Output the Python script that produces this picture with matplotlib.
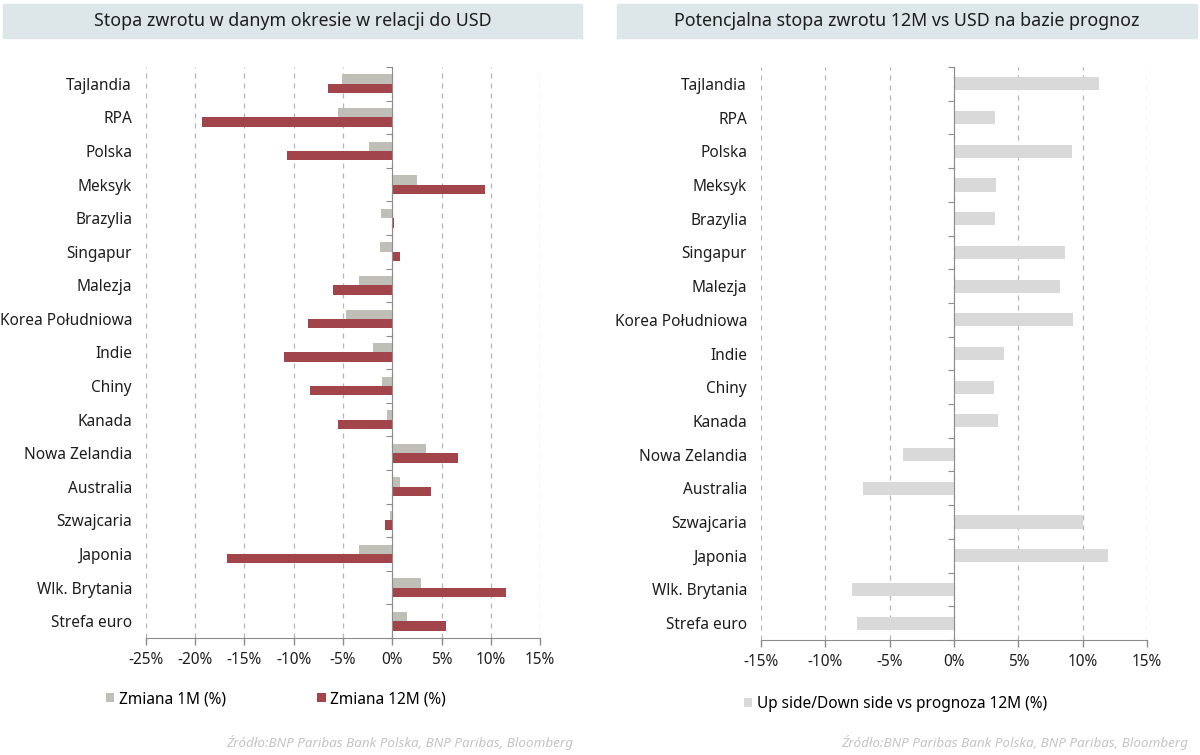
import numpy as np
import matplotlib
matplotlib.use("Agg")
import matplotlib.pyplot as plt
from matplotlib.patches import Rectangle
from matplotlib.ticker import FuncFormatter

plt.rcParams['font.family'] = ['Noto Sans', 'DejaVu Sans']

# data
countries = ["Tajlandia", "RPA", "Polska", "Meksyk", "Brazylia", "Singapur", "Malezja",
             "Korea Południowa", "Indie", "Chiny", "Kanada", "Nowa Zelandia", "Australia",
             "Szwajcaria", "Japonia", "Wlk. Brytania", "Strefa euro"]
change_1m = [-5.1, -5.5, -2.4, 2.5, -1.15, -1.2, -3.4, -4.7, -2.0, -1.0, -0.55,
             3.4, 0.8, -0.2, -3.4, 2.9, 1.5]
change_12m = [-6.5, -19.3, -10.7, 9.4, 0.15, 0.8, -6.0, -8.6, -11.0, -8.3, -5.5,
              6.7, 3.9, -0.7, -16.8, 11.5, 5.5]
upside = [11.3, 3.2, 9.2, 3.3, 3.15, 8.65, 8.2, 9.25, 3.9, 3.1, 3.4,
          -4.0, -7.05, 10.05, 12.0, -7.95, -7.55]

left_ticks = [-25, -20, -15, -10, -5, 0, 5, 10, 15]
right_ticks = [-15, -10, -5, 0, 5, 10, 15]

title_left = "Stopa zwrotu w danym okresie w relacji do USD"
title_right = "Potencjalna stopa zwrotu 12M vs USD na bazie prognoz"
source = "Źródło:BNP Paribas Bank Polska, BNP Paribas, Bloomberg"

GRAY = "#bfbfb8"
RED = "#a2454b"
LIGHT = "#d9d9d9"
AXC = "#8c8c8c"
TXT = "#1e1e1e"
FS = 11.1

W, H = 1200, 755
fig = plt.figure(figsize=(W / 100, H / 100), dpi=100)


def px_axes(x0, y0, x1, y1):
    return fig.add_axes([x0 / W, 1 - y1 / H, (x1 - x0) / W, (y1 - y0) / H])


def style_axes(ax, ticks):
    n = len(countries)
    ax.set_xlim(ticks[0], ticks[-1])
    ax.set_ylim(n - 0.5, -0.5)
    ax.set_xticks(ticks)
    ax.xaxis.set_major_formatter(FuncFormatter(lambda v, p: f"{v:.0f}%"))
    ax.tick_params(axis='x', colors=AXC, length=5, width=1, labelcolor=TXT,
                   labelsize=FS, pad=5)
    ax.set_yticks(np.arange(n))
    ax.set_yticklabels(countries)
    ax.tick_params(axis='y', length=0, labelsize=FS, labelcolor=TXT, pad=10)
    for s in ['top', 'right', 'left']:
        ax.spines[s].set_visible(False)
    ax.spines['bottom'].set_color(AXC)
    ax.grid(axis='x', linestyle=(0, (4, 4)), color="#b5b5b5", linewidth=0.9)
    ax.set_axisbelow(True)
    # zero axis with ticks at category boundaries
    tw = ax.twinx()
    tw.set_ylim(n - 0.5, -0.5)
    for s in ['top', 'left', 'bottom']:
        tw.spines[s].set_visible(False)
    tw.spines['right'].set_position(('data', 0))
    tw.spines['right'].set_color(AXC)
    tw.spines['right'].set_zorder(5)
    tw.set_yticks(np.arange(n + 1) - 0.5)
    tw.tick_params(axis='y', direction='in', length=4, color=AXC, labelright=False)


# left chart
axl = px_axes(146, 67, 540, 638)
y = np.arange(len(countries))
h = 0.28
b1 = axl.barh(y - h / 2, change_1m, height=h, color=GRAY, zorder=3)
b2 = axl.barh(y + h / 2, change_12m, height=h, color=RED, zorder=3)
style_axes(axl, left_ticks)
axl.legend([b1, b2], ["Zmiana 1M (%)", "Zmiana 12M (%)"], ncol=2, frameon=False,
           loc='center left', bbox_to_anchor=(106 / W, 1 - 699 / H),
           bbox_transform=fig.transFigure, fontsize=FS, handlelength=0.55,
           handleheight=0.55, handletextpad=0.3, columnspacing=5.9,
           borderaxespad=0, borderpad=0)

# right chart
axr = px_axes(761, 67, 1147, 640)
b3 = axr.barh(y, upside, height=0.39, color=LIGHT, zorder=3)
style_axes(axr, right_ticks)
axr.legend([b3], ["Up side/Down side vs prognoza 12M (%)"], frameon=False,
           loc='center left', bbox_to_anchor=(744 / W, 1 - 704 / H),
           bbox_transform=fig.transFigure, fontsize=FS, handlelength=0.55,
           handleheight=0.55, handletextpad=0.3, borderaxespad=0, borderpad=0)

# title boxes
for x0, x1, t in [(3, 582, title_left), (617, 1197, title_right)]:
    fig.patches.append(Rectangle((x0 / W, 1 - 38 / H), (x1 - x0) / W, 34 / H,
                                 transform=fig.transFigure, color="#dde6e8", zorder=0))
    fig.text((x0 + x1) / 2 / W, 1 - 21 / H, t, ha='center', va='center',
             fontsize=12.8, color=TXT)

# source notes
for xr in [573, 1188]:
    fig.text(xr / W, 1 - 742 / H, source, ha='right', va='center', fontsize=9.7,
             style='italic', color="#c4c4c4")

fig.savefig("out.png", dpi=100, facecolor="white")
